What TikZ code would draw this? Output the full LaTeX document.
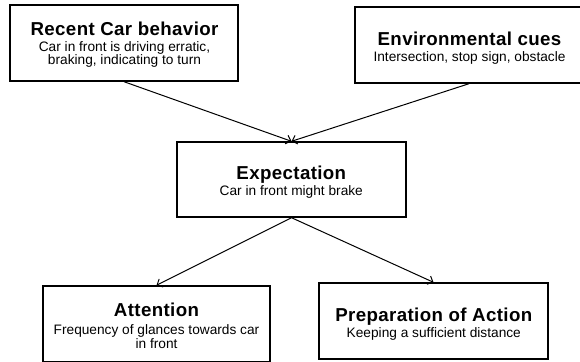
\documentclass[tikz,border=0pt]{standalone}
\usepackage{fontspec}
\setmainfont{Liberation Sans}
\usetikzlibrary{arrows.meta}
\begin{document}
\begin{tikzpicture}[x=1pt,y=-1pt,
  frame/.style={draw, line width=1.4pt, rectangle, inner sep=0pt,
                minimum width=228pt, minimum height=76pt},
  headline/.style={anchor=base, inner sep=0pt,
                   font=\fontsize{18.7}{20}\selectfont\bfseries\addfontfeatures{LetterSpace=2}},
  detail/.style={anchor=base, inner sep=0pt, font=\fontsize{13.7}{13}\selectfont},
  link/.style={line width=1pt, -{Straight Barb[length=4.5pt,width=9pt]}}]
  \useasboundingbox (0,0) rectangle (580,361);

  % frames
  \node[frame] (recent) at (124,43) {};
  \node[frame] (env) at (469,45) {};
  \node[frame, minimum height=75pt, minimum width=229pt] (expect) at (291.5,179.5) {};
  \node[frame, minimum width=227pt] (attn) at (156.5,324) {};
  \node[frame, minimum width=229pt] (prep) at (433.5,321) {};

  % texts
  \node[headline] (recentT) at (124.5,35.7) {Recent Car behavior};
  \node[detail] (recentD1) at (124.5,52) {Car in front is driving erratic,};
  \node[detail] (recentD2) at (124.5,64.5) {braking, indicating to turn};

  \node[headline] (envT) at (469.5,45.7) {Environmental cues};
  \node[detail] (envD) at (469.5,62) {Intersection, stop sign, obstacle};

  \node[headline] (expectT) at (291.3,179) {Expectation};
  \node[detail] (expectD) at (291.3,195.7) {Car in front might brake};

  \node[headline] (attnT) at (156.5,316.7) {Attention};
  \node[detail] (attnD1) at (156.5,334.5) {Frequency of glances towards car};
  \node[detail] (attnD2) at (156.5,348) {in front};

  \node[headline] (prepT) at (433.8,321.7) {Preparation of Action};
  \node[detail] (prepD) at (433.8,337.3) {Keeping a sufficient distance};

  % connectors
  \draw[link] (recent.south) -- (expect.north);
  \draw[link] (env.south) -- (expect.north);
  \draw[link] (expect.south) -- (attn.north);
  \draw[link] (expect.south) -- (prep.north);
\end{tikzpicture}
\end{document}
